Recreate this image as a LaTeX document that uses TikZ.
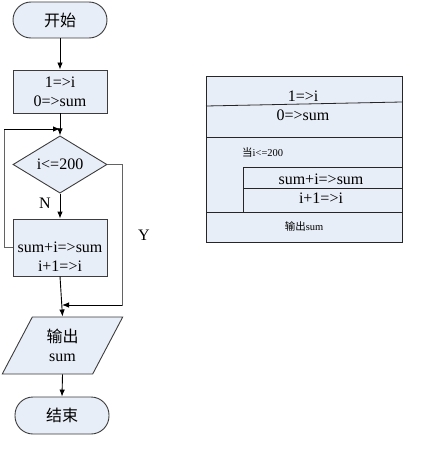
\documentclass[tikz,border=0pt]{standalone}
\usepackage{fontspec}
\setmainfont{Liberation Serif}
\newfontfamily\cjk{Noto Sans CJK SC}
\usetikzlibrary{shapes.geometric,arrows.meta}
\definecolor{boxfill}{RGB}{232,238,247}
\definecolor{edge}{RGB}{60,60,60}
\begin{document}
\begin{tikzpicture}[x=1pt,y=-1pt,
  base/.style={draw=edge,fill=boxfill,line width=0.9pt,inner sep=0pt,align=center,font=\fontsize{16}{19}\selectfont},
  term/.style={base,rectangle,rounded corners=18pt,minimum width=94pt,minimum height=36pt},
  procbox/.style={base,rectangle,minimum width=94pt,minimum height=43pt},
  decide/.style={base,diamond,minimum width=94pt,minimum height=57pt},
  io/.style={base,trapezium,trapezium left angle=64,trapezium right angle=116,trapezium stretches=true,minimum width=121pt,minimum height=57pt},
  flow/.style={line width=0.9pt,draw=black,-{Latex[length=7pt,width=5.5pt]}},
  back/.style={line width=0.9pt,draw=edge!80},
  lbl/.style={font=\fontsize{16}{19}\selectfont,inner sep=0pt,align=center},
  small/.style={font=\fontsize{10.5}{12}\selectfont,inner sep=0pt},
  nsline/.style={draw=black!85,line width=0.8pt}]
\useasboundingbox (0,0) rectangle (429,452);

% flowchart
\node[term] (start) at (60,20) {\cjk 开始};
\node[procbox] (init) at (60,91.5) {1=>i\\0=>sum};
\node[decide] (cond) at (60,164.5) {i<=200};
\node[procbox,minimum height=57pt] (body) at (60,247.5) {};
\node[lbl] (bodytext) at (60,256.5) {sum+i=>sum\\i+1=>i};
\node[io] (out) at (62.5,345.5) {{\cjk 输出}\\sum};
\node[term,minimum height=37pt] (stop) at (62,415.5) {\cjk 结束};

\coordinate (loopin) at (60,129);
\coordinate (merge) at (62,305);
\coordinate (lt) at (4,129);
\coordinate (lb) at (4,247.5);
\coordinate (rt) at (122,164.5);
\coordinate (rb) at (122,305);

\draw[flow] (start.south) -- (init.north);
\draw[flow] (init.south) -- (cond.north);
\draw[flow] (cond.south) -- (body.north);
\node[lbl] (nlab) at (45,203) {N};
\draw[back] (body.west) -- (lb) -- (lt) -- (50,129);
\draw[flow] (lt) -- (loopin);
\draw[back] (cond.east) -- (rt) -- (rb) -- (70,305);
\draw[flow] (rb) -- (merge);
\draw[flow] (body.south) -- (out.north);
\draw[flow] (out.south) -- (stop.north);
\node[lbl] (ylab) at (144,235) {Y};

% N-S diagram
\fill[boxfill] (206,76) rectangle (402,242);
\draw[nsline] (206,76) rectangle (402,242);
\draw[nsline] (206,106) -- (402,102);
\draw[nsline] (206,137) -- (402,137);
\draw[nsline] (243,212) -- (243,167) -- (402,167);
\draw[nsline] (243,188) -- (402,188);
\draw[nsline] (206,212) -- (402,212);
\node[lbl] (a1) at (303,96) {1=>i};
\node[lbl] (a2) at (303,115) {0=>sum};
\node[small,anchor=west] (w) at (242,153) {{\cjk 当}i<=200};
\node[lbl] (b1) at (321,179) {sum+i=>sum};
\node[lbl] (b2) at (321,198) {i+1=>i};
\node[small] (o) at (304,226) {{\cjk 输出}sum};
\end{tikzpicture}
\end{document}
